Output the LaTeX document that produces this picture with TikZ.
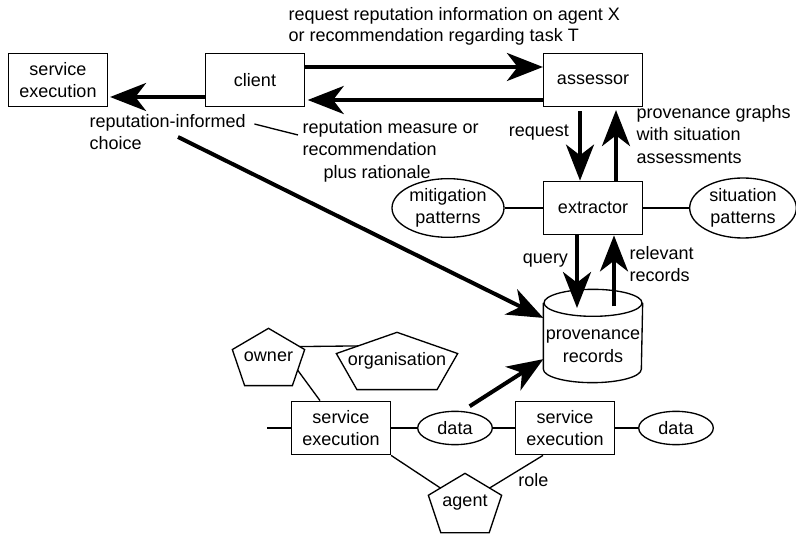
\documentclass[tikz,border=0pt]{standalone}
\usepackage{fontspec}
\setmainfont{Liberation Sans}
\usetikzlibrary{arrows.meta, positioning, shapes.geometric, calc}

\begin{document}
\begin{tikzpicture}[
            x = 0.75pt, y = -0.75pt, % one unit per pixel, y going down
            > = {Stealth[length=27pt, width=21pt, inset=8pt]}, % big arrow heads
            node distance = 96pt, % centre to centre
            font = \fontsize{13.5}{17}\selectfont,
            line width = 1pt
        ]

        \tikzstyle{box}=[
            draw = black,
            line width = 1.1pt,
            minimum width = 74pt,
            minimum height = 40pt,
            align = center
        ]
        \tikzstyle{blob}=[draw = black, ellipse, align = center, inner sep = 0pt]
        \tikzstyle{store}=[minimum width = 73.5pt, minimum height = 69pt, inner sep = 0pt]
        \tikzstyle{penta}=[inner sep = 0pt, minimum height = 42pt]
        \tikzstyle{note}=[align = left, inner sep = 0pt]
        \tikzstyle{flow}=[->, line width = 3pt]

        \useasboundingbox (0,0) rectangle (796,534);

        % reputation service
        \node[box] (client) at (255,80) {client};
        \node[box] (assessor) [node distance=253.5pt, right of=client] {assessor};
        \node[box] (service) [node distance=147.75pt, left of=client] {service\\execution};
        \node[box] (extractor) [below of=assessor] {extractor};
        \node[store] (records) [below of=extractor] {};
        \node[align=center, inner sep=0pt] (recordstext) at ([yshift=-7.5pt]records.center) {provenance\\records};
        \node[blob, minimum width=84pt, minimum height=44pt] (mitigation) [node distance=108.75pt, left of=extractor] {mitigation\\patterns};
        \node[blob, minimum width=80pt, minimum height=45pt] (situation) [node distance=112.5pt, right of=extractor] {situation\\patterns};

        % the store drawn as a can
        \draw ([yshift=-10.125pt]records.north) ellipse [x radius=36.75pt, y radius=10.125pt];
        \draw ([yshift=-10.125pt]records.north west) -- ([yshift=10.125pt]records.south west)
            arc [start angle=180, end angle=360, x radius=36.75pt, y radius=10.125pt]
            -- ([yshift=-10.125pt]records.north east);

        \node[note, anchor=north west, font=\fontsize{13.5}{15.75}\selectfont] (asking) at (288,6.5) {request reputation information on agent X\\or recommendation regarding task T};
        \node[note, anchor=north west] (informed) at (89,113.5) {reputation-informed\\choice};
        \node[note, anchor=north west] (measure) at (302,119.5) {reputation measure or\\recommendation\\\hspace{15.75pt}plus rationale};
        \node[note, anchor=north west] (graphs) at (636,104.5) {provenance graphs\\with situation\\assessments};
        \node[note, anchor=north west] (relevant) at (629,245.5) {relevant\\records};

        \draw[flow] ([yshift=9.75pt]client.east) -- ([yshift=9.75pt]assessor.west);
        \draw[flow] ([yshift=-15pt]assessor.west) -- ([xshift=2pt, yshift=-15pt]client.east);
        \draw[flow] ([yshift=-12.75pt]client.west) -- ([xshift=1.5pt, yshift=-12.75pt]service.east);
        \draw ([xshift=6pt, yshift=-7.9pt]informed.north east) -- ([xshift=-3pt, yshift=-11.6pt]measure.north west);

        \draw[flow] ([xshift=-9.75pt, yshift=-3pt]assessor.south) -- ([xshift=-9.75pt]extractor.north)
            node[note, left=6.75pt, pos=0.3] (asked) {request};
        \draw[flow] ([xshift=17.25pt]extractor.north) -- ([xshift=17.25pt, yshift=-2pt]assessor.south);
        \draw[flow] ([xshift=-12pt]extractor.south) -- ([xshift=-12pt, yshift=-14pt]records.north)
            node[note, left=5.25pt, pos=0.35] (query) {query};
        \draw[flow] ([xshift=15.75pt, yshift=-12.75pt]records.north) -- ([xshift=15.75pt]extractor.south);

        \draw (mitigation) -- (extractor);
        \draw (extractor) -- (situation);

        \coordinate (informedfoot) at (178,137);
        \draw[flow] (informedfoot) -- (records.160);

        % provenance of one service run
        \node[box] (exec1) at (341,428) {service\\execution};
        \node[blob, minimum width=56pt, minimum height=25pt] (data1) [node distance=85.5pt, right of=exec1] {data};
        \node[box] (exec2) [node distance=82.5pt, right of=data1] {service\\execution};
        \node[blob, minimum width=56pt, minimum height=25pt] (data2) [node distance=83.25pt, right of=exec2] {data};
        \node[penta, minimum width=53.25pt] (owner) at (268.5,357) {owner};
        \node[penta, minimum width=90pt] (organisation) at (397,361) {organisation};
        \node[penta, minimum width=54pt, minimum height=43.5pt] (agent) at (465,503) {agent};

        \foreach \pent in {owner, organisation, agent} {
            \coordinate (\pent-l) at ($(\pent.north west)!0.37!(\pent.south west)$);
            \coordinate (\pent-r) at ($(\pent.north east)!0.37!(\pent.south east)$);
            \coordinate (\pent-bl) at ($(\pent.south west)!0.17!(\pent.south east)$);
            \coordinate (\pent-br) at ($(\pent.south east)!0.17!(\pent.south west)$);
            \draw (\pent.north) -- (\pent-l) -- (\pent-bl) -- (\pent-br) -- (\pent-r) -- cycle;
        }

        \coordinate (inflow) at (267,428);
        \draw (inflow) -- (exec1);
        \draw (exec1) -- (data1);
        \draw (data1) -- (exec2);
        \draw (exec2) -- (data2);
        \draw ($(owner.north)!0.86!(owner-r)$) -- ($(organisation.north)!0.64!(organisation-l)$);
        \draw ($(owner-r)!0.57!(owner-br)$) -- ([xshift=-15.75pt]exec1.north);
        \draw (exec1.south east) -- ($(agent.north)!0.67!(agent-l)$);
        \draw ([xshift=-16.5pt]exec2.south) -- ($(agent.north)!0.67!(agent-r)$)
            node[note, pos=0.5, below right, inner sep=1pt] (role) {role};

        \draw[flow] ([shift={(3.75pt,3.75pt)}]data1.60) -- (records.205);
    \end{tikzpicture}
\end{document}
